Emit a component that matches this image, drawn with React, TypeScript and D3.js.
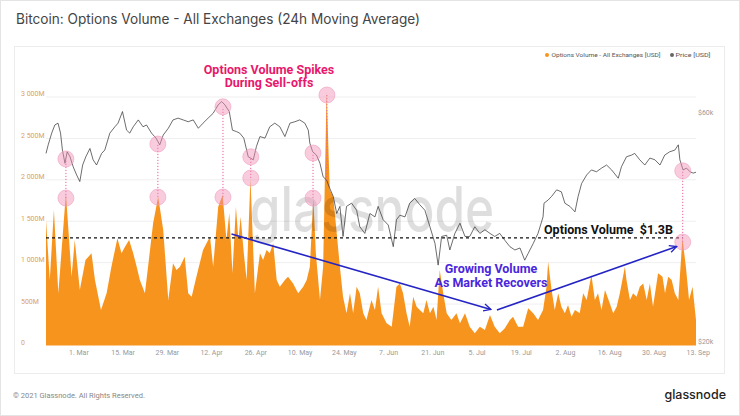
import React from "react";
import * as d3 from "d3";

// ---- Data ----
const BASE_DATE = Date.UTC(2021, 2, 1); // 1 Mar 2021; day offsets below are relative to it

// Options volume (24h MA), USD millions
const volDays = [-10.4,-9.2,-7.9,-6.5,-4.1,-2.3,-1.3,0.3,2.1,4.0,5.1,7.0,8.8,10.3,12.2,13.5,14.6,15.9,17.2,18.3,19.3,20.9,21.9,23.5,25.1,26.7,28.3,29.8,30.9,32.0,33.5,34.6,35.7,37.2,39.3,40.4,41.5,42.5,44.1,45.5,46.7,47.6,48.6,49.7,50.5,51.2,52.2,53.1,54.3,55.7,57.3,58.3,59.4,60.4,61.5,62.6,63.6,65.2,66.2,67.8,69.4,71.0,72.1,73.1,74.2,75.0,76.3,77.3,78.4,79.4,80.5,81.6,82.6,83.6,84.7,85.8,86.8,87.9,88.9,90.0,91.0,92.6,93.7,94.7,95.8,97.4,99.0,100.5,101.6,102.6,103.7,104.7,105.8,106.9,107.9,109.0,110.0,111.1,112.2,113.2,114.2,115.3,116.4,117.9,119.5,120.6,122.2,123.7,125.3,126.9,128.5,130.1,131.6,133.2,134.8,136.4,137.4,139.0,140.6,142.2,143.8,145.3,146.9,148.0,148.5,149.6,150.6,151.7,152.7,153.8,154.8,155.9,157.0,158.5,159.6,160.7,162.2,163.3,164.3,165.4,166.5,168.0,169.1,170.2,171.2,172.8,173.3,174.4,175.4,176.5,177.5,178.6,179.7,180.7,181.7,183.3,184.7,185.5,186.5,187.6,188.6,189.7,191.0,192.1,193.1,194.2,195.3];
const volM = [1515,790,1635,630,1837,830,1273,670,1032,1113,790,428,633,951,1294,1113,1193,1273,1113,951,790,630,951,1475,1796,1394,549,992,911,951,1072,630,589,830,1153,1233,1313,951,1675,1817,1273,1596,871,1675,1273,1555,1113,790,2018,630,1113,1032,1153,1113,1233,790,710,790,830,750,630,710,790,951,1777,1113,549,951,3063,1877,1796,1354,951,589,388,630,388,710,630,388,308,549,428,710,388,268,227,710,750,630,388,227,589,469,428,388,549,388,469,308,911,630,388,308,388,268,388,227,147,227,187,368,227,147,207,308,348,227,227,449,388,308,428,710,1012,670,428,630,469,388,489,348,428,388,630,549,851,549,630,428,670,509,388,469,630,951,790,549,630,589,710,750,549,750,469,871,830,630,830,790,630,549,1294,951,549,710,308];

// BTC price, USD thousands
const priceDays = [-10.4,-9.7,-8.6,-7.6,-6.6,-5.8,-5.2,-4.4,-3.7,-2.8,-1.8,-0.7,0.3,1.2,2.2,3.5,4.5,5.6,7.2,8.2,9.8,11.4,12.4,13.8,15.1,16.1,17.2,18.8,20.3,21.4,23.0,24.4,25.6,26.7,28.3,29.8,31.4,33.0,34.6,36.2,37.8,39.3,40.9,42.5,44.1,45.2,46.2,47.6,48.6,49.9,50.9,52.2,53.6,55.2,56.2,57.3,58.9,60.4,62.0,63.6,65.2,66.8,68.4,69.9,71.5,72.6,73.1,74.0,75.2,76.3,77.3,78.4,79.4,80.5,81.6,82.6,83.6,84.7,86.3,87.9,88.9,90.5,92.1,93.7,94.7,96.3,97.9,99.5,100.5,101.6,103.2,104.7,106.3,107.9,109.5,111.1,112.7,113.7,114.8,116.4,117.4,119.0,120.6,122.2,123.7,125.3,126.9,128.5,130.1,131.6,133.2,134.8,136.4,138.0,139.6,141.1,142.2,143.8,145.3,146.9,147.2,148.5,149.6,151.2,152.7,153.8,155.4,157.0,158.0,159.1,160.7,162.2,163.8,165.4,167.0,168.6,170.7,171.7,173.3,174.9,175.9,177.5,179.1,180.7,182.3,183.9,185.4,187.0,188.6,189.7,190.2,191.2,192.3,193.4,194.4,195.3];
const priceK = [49.9,52.0,55.0,57.2,57.7,55.0,50.7,47.6,50.3,49.1,46.8,45.0,43.6,47.2,49.1,51.1,48.4,47.2,49.9,50.7,55.0,56.7,57.7,61.0,55.8,55.0,56.7,58.6,56.7,57.2,55.0,53.7,52.0,54.5,56.3,58.6,59.1,58.6,58.1,58.6,56.3,57.7,59.1,60.5,63.0,64.0,63.0,61.0,55.8,55.4,55.0,53.7,49.1,48.4,51.6,54.1,53.7,56.7,57.7,56.7,54.1,57.7,58.1,58.6,57.7,55.8,52.4,50.3,49.5,47.6,44.6,43.9,42.2,40.6,37.4,38.7,33.5,38.7,39.3,38.0,35.1,34.0,37.4,36.8,38.7,36.3,35.4,31.9,36.3,37.1,36.8,39.3,40.2,39.0,38.0,35.1,32.4,29.2,33.5,33.7,31.4,34.0,35.7,33.5,33.5,35.1,34.0,34.6,34.0,33.5,34.0,32.9,31.9,31.4,31.7,29.9,30.9,32.4,34.0,36.8,39.3,39.9,40.6,41.9,41.5,39.3,38.7,37.7,40.6,43.2,45.0,46.1,45.7,46.5,47.2,46.1,44.3,46.8,49.1,49.5,49.9,48.4,47.2,48.8,48.4,47.2,49.5,50.3,50.7,52.0,48.4,46.1,46.5,45.7,45.4,45.6];

// Axis ticks
const volTicks = [0, 500, 1000, 1500, 2000, 2500, 3000];
const priceTicks = [20, 60];
const xTickDays = [0, 14, 28, 42, 56, 70, 84, 98, 112, 126, 140, 154, 168, 182, 196];

// Annotations: sell-off spikes (day, volume M, price k)
const spikeDays = [-4.1, 25.0, 45.6, 54.4, 74.1, 191.1];
const spikeVol = [1780, 1792, 1792, 2022, 1780, 1249];
const spikePrice = [48.6, 52.2, 62.4, 49.1, 50.0, 45.9];
const bigSpikeDay = 78.5;
const bigSpikeVol = 3024;
const bigSpikePrice = 43.9;
const refLevel = 1300; // $1.3B
const arrowDays = [[48.3, 130.4], [132.3, 189.2]];
const arrowVols = [[1346, 435], [428, 1195]];

const toDate = (d: number) => new Date(BASE_DATE + d * 86400000);

export default function App() {
  const W = 740, H = 416;
  const allDays = [...volDays, ...priceDays];
  const x = d3.scaleUtc()
    .domain([toDate(d3.min(allDays)!), toDate(d3.max(allDays)!)])
    .range([46, 696]);
  const yV = d3.scaleLinear().domain([0, 3000]).range([345.5, 97]);
  const yP = d3.scaleLog().domain([20, 60]).range([344, 115]);

  const volData = volDays.map((d, i) => ({ t: toDate(d), v: volM[i] }));
  const priceData = priceDays.map((d, i) => ({ t: toDate(d), p: priceK[i] }));

  const area = d3.area<{ t: Date; v: number }>()
    .x(d => x(d.t)).y0(yV(0)).y1(d => yV(d.v));
  const line = d3.line<{ t: Date; p: number }>()
    .x(d => x(d.t)).y(d => yP(d.p));

  const fmtVol = (v: number) => v === 0 ? "0" : d3.format(",")(v).replace(/,/g, " ") + "M";
  const fmtDate = d3.utcFormat("%-d. %b");

  const small = "Roboto, 'Noto Sans', sans-serif";
  const pink = "#e8176c";
  const blue = "#2424c4";
  const purple = "#4a26dc";
  const orange = "#f7941d";

  const dashEndX = x(toDate(spikeDays[spikeDays.length - 1]));

  return (
    <svg width={W} height={H} style={{ position: "absolute", left: 0, top: 0, background: "#fff" }}
      fontFamily={small}>
      <defs>
        <marker id="arr" viewBox="0 0 10 10" refX="9" refY="5" markerWidth="9" markerHeight="9"
          orient="auto" markerUnits="userSpaceOnUse">
          <path d="M1,1 L9,5 L1,9" fill="none" stroke={blue} strokeWidth={1.4} />
        </marker>
      </defs>
      <rect x={0.5} y={0.5} width={W - 1} height={H - 1} fill="#fff" stroke="#e4e4e4" />
      <text x={16} y={23.5} fontSize={14} fill="#444" fontFamily="Inter, Roboto, sans-serif"
        textLength={404} lengthAdjust="spacingAndGlyphs">
        Bitcoin: Options Volume - All Exchanges (24h Moving Average)
      </text>
      <rect x={14.5} y={46.5} width={710} height={327} fill="#fff" stroke="#ececec" />

      {/* legend */}
      <circle cx={547} cy={55} r={2} fill={orange} />
      <text x={551.5} y={57.2} fontSize={6} fill="#555" textLength={109} lengthAdjust="spacingAndGlyphs">
        Options Volume - All Exchanges [USD]
      </text>
      <circle cx={672} cy={55} r={2} fill="#666" />
      <text x={675.5} y={57.2} fontSize={6} fill="#555" textLength={35} lengthAdjust="spacingAndGlyphs">
        Price [USD]
      </text>

      {/* gridlines */}
      {volTicks.filter(t => t > 0).map(t => (
        <line key={t} x1={46} x2={696} y1={yV(t)} y2={yV(t)} stroke="#efefef" strokeWidth={1} />
      ))}

      {/* volume area */}
      <path d={area(volData)!} fill={orange} />

      {/* watermark */}
      <g transform="translate(372,231) scale(0.8,1)">
        <text x={0} y={0} fontSize={62} fill="#000" fillOpacity={0.13} textAnchor="middle"
          fontFamily="Inter, Roboto, sans-serif" fontWeight={500}>
          glassnode
        </text>
      </g>

      {/* price line */}
      <path d={line(priceData)!} fill="none" stroke="#333" strokeWidth={0.8} strokeOpacity={0.9} />

      {/* left axis */}
      {volTicks.map(t => (
        <text key={t} x={21} y={yV(t) - 3} dy="0.35em" fontSize={7} fill="#dca25e">{fmtVol(t)}</text>
      ))}
      {/* right axis */}
      {priceTicks.map(t => (
        <text key={t} x={698} y={yP(t) - 2} dy="0.35em" fontSize={7} fill="#999">${t}k</text>
      ))}
      {/* x axis */}
      {xTickDays.map(d => (
        <text key={d} x={x(toDate(d))} y={353} dy="0.35em" fontSize={7} fill="#999" textAnchor="middle">
          {fmtDate(toDate(d))}
        </text>
      ))}

      {/* 1.3B reference */}
      <line x1={x(toDate(volDays[0]))} x2={dashEndX} y1={yV(refLevel)} y2={yV(refLevel)}
        stroke="#111" strokeWidth={1.3} strokeDasharray="3,3" />

      {/* spike connectors + circles */}
      {spikeDays.map((d, i) => {
        const cx = x(toDate(d));
        return (
          <g key={i}>
            <line x1={cx} x2={cx} y1={yV(spikeVol[i])} y2={yP(spikePrice[i])}
              stroke="#e8609a" strokeWidth={1} strokeDasharray="1.2,1.8" />
            <circle cx={cx} cy={yV(spikeVol[i])} r={8} fill="#f08cb4" fillOpacity={0.45} stroke="#f0a0c0" strokeWidth={0.6} />
            <circle cx={cx} cy={yP(spikePrice[i])} r={8} fill="#f08cb4" fillOpacity={0.45} stroke="#f0a0c0" strokeWidth={0.6} />
          </g>
        );
      })}
      <line x1={x(toDate(bigSpikeDay))} x2={x(toDate(bigSpikeDay))} y1={yV(bigSpikeVol)} y2={yP(bigSpikePrice)}
        stroke="#e8609a" strokeWidth={1} strokeDasharray="1.2,1.8" />
      <circle cx={x(toDate(bigSpikeDay))} cy={yV(bigSpikeVol)} r={8} fill="#f08cb4" fillOpacity={0.45} stroke="#f0a0c0" strokeWidth={0.6} />

      {/* arrows */}
      {arrowDays.map((ds, i) => (
        <line key={i} x1={x(toDate(ds[0]))} y1={yV(arrowVols[i][0])} x2={x(toDate(ds[1]))} y2={yV(arrowVols[i][1])}
          stroke={blue} strokeWidth={1.6} markerEnd="url(#arr)" />
      ))}

      {/* annotation texts */}
      <text x={269} y={73.5} fontSize={12.5} fontWeight={700} fill={pink} textAnchor="middle">Options Volume Spikes</text>
      <text x={269} y={87} fontSize={12.5} fontWeight={700} fill={pink} textAnchor="middle">During Sell-offs</text>
      <text x={491} y={273} fontSize={12.5} fontWeight={700} fill={purple} textAnchor="middle">Growing Volume</text>
      <text x={491} y={287} fontSize={12.5} fontWeight={700} fill={purple} textAnchor="middle">As Market Recovers</text>
      <text x={544} y={234} fontSize={12.5} fontWeight={700} fill="#111">{"Options Volume\u00A0 $1.3B"}</text>

      {/* footer */}
      <text x={13} y={397.5} fontSize={7.5} fill="#888">© 2021 Glassnode. All Rights Reserved.</text>
      <text x={726} y={399} fontSize={12.5} fontWeight={500} fill="#222" textAnchor="end"
        fontFamily="Inter, Roboto, sans-serif">glassnode</text>
    </svg>
  );
}
